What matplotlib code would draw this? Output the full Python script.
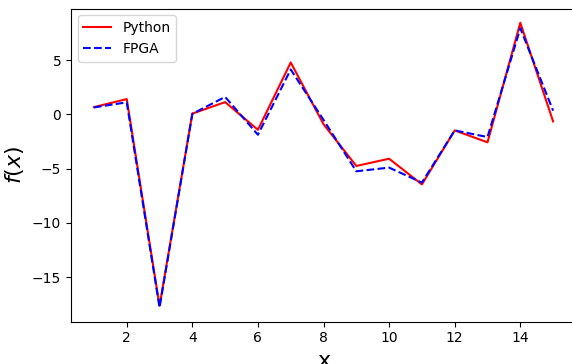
import matplotlib
matplotlib.use("Agg")
import matplotlib.pyplot as plt

# sample index and the two evaluated outputs
x = [1, 2, 3, 4, 5, 6, 7, 8, 9, 10, 11, 12, 13, 14, 15]
f_python = [0.68, 1.42, -17.65, 0.08, 1.14, -1.41, 4.8, -0.9, -4.75, -4.08, -6.45, -1.47, -2.57, 8.46, -0.64]
f_fpga = [0.65, 1.12, -17.8, 0.06, 1.62, -1.87, 4.15, -0.5, -5.24, -4.9, -6.28, -1.47, -2.08, 7.95, 0.35]

DPI = 100
fig = plt.figure(figsize=(572 / DPI, 364 / DPI), dpi=DPI)
ax = fig.add_axes([0.1241, 0.1162, 0.883, 0.8604])

ax.plot(x, f_python, "r-", label="Python")
ax.plot(x, f_fpga, "b--", label="FPGA")
ax.set_xlabel("x", fontsize=16)
ax.set_ylabel("$f(x)$", fontsize=16)
ax.legend(loc="upper left")

fig.savefig("out.png", dpi=DPI, facecolor="white")
plt.close(fig)
